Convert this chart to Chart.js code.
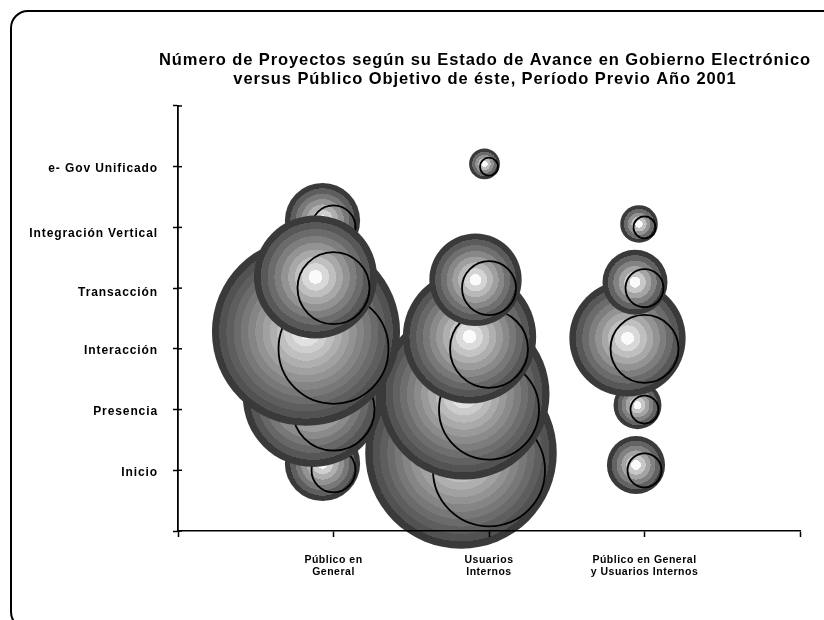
<!DOCTYPE html>
<html>
<head>
<meta charset="utf-8">
<style>
html,body{margin:0;padding:0;background:#fff;width:824px;height:620px;overflow:hidden}
#wrap{position:relative;width:824px;height:620px;overflow:hidden}
#frame{position:absolute;left:10px;top:10px;width:900px;height:620px;border:2px solid #000;border-radius:18px;box-sizing:border-box}
canvas{position:absolute;left:0;top:0}
</style>
</head>
<body>
<div id="wrap"><div id="frame"></div><canvas id="c" width="824" height="620"></canvas></div>
<script src="https://cdn.jsdelivr.net/npm/chart.js@4/dist/chart.umd.min.js"></script>
<script>
const titleLines = ['Número de Proyectos según su Estado de Avance en Gobierno Electrónico','versus Público Objetivo de éste, Período Previo Año 2001'];
const categories = [['Público en','General'],['Usuarios','Internos'],['Público en General','y Usuarios Internos']];
const stages = ['Inicio','Presencia','Interacción','Transacción','Integración Vertical','e- Gov Unificado'];
const rInicio = [22,56,17];
const rPresencia = [41,50,14];
const rInteraccion = [55,39,34];
const rTransaccion = [36,27,19];
const rIntegracion = [22,0,11];
const rEgov = [0,9,0];

const HALO_SCALE = 1.71, HALO_DX = -0.5, HALO_DY = -0.31;
const Y_LABEL_SHIFT = [2, 2, 1.5, 4.5, 6, 2.5];

function haloGradient(ctx, h) {
  const g = ctx.createRadialGradient(h.x, h.y, 0, h.x, h.y, h.r);
  const n = Math.round(3 + h.r / 9.5);
  for (let i = 0; i < n; i++) {
    const v = i === n - 1 ? 58 : Math.round(250 - Math.pow(i / (n - 1), 0.8) * 180);
    const c = 'rgb(' + v + ',' + v + ',' + (v + (i === n - 1 ? 1 : 0)) + ')';
    g.addColorStop(i / n, c);
    g.addColorStop((i + 1) / n, c);
  }
  return g;
}

function spaced(obj, method, px) {
  const orig = obj[method];
  obj[method] = function () {
    const ctx = this.ctx;
    const prev = ctx.letterSpacing;
    ctx.letterSpacing = px;
    orig.apply(this, arguments);
    ctx.letterSpacing = prev;
  };
}

const layoutPlugin = {
  id: 'layoutTweaks',
  afterLayout(chart) {
    const t = chart.titleBlock;
    t.left = 85; t.right = 885;
    if (!chart.$spaced) {
      chart.$spaced = true;
      spaced(t, 'draw', '0.9px');
      spaced(chart.scales.x, 'drawLabels', '0.5px');
      spaced(chart.scales.y, 'drawLabels', '0.9px');
      const y = chart.scales.y;
      const items = y.getLabelItems;
      y.getLabelItems = function (area) {
        return items.call(this, area).map(it => {
          const shift = Y_LABEL_SHIFT[stages.indexOf(it.label)] || 0;
          const tr = it.options.translation;
          return Object.assign({}, it, { options: Object.assign({}, it.options, { translation: [tr[0], tr[1] + shift] }) });
        });
      };
    }
  }
};

const crossTickPlugin = {
  id: 'crossTicks',
  afterDraw(chart) {
    const s = chart.scales.y, ctx = chart.ctx;
    ctx.save();
    ctx.strokeStyle = '#000';
    ctx.lineWidth = 1.5;
    s.ticks.forEach((t, i) => {
      const y = s.getPixelForTick(i);
      ctx.beginPath();
      ctx.moveTo(s.right, y);
      ctx.lineTo(s.right + 4, y);
      ctx.stroke();
    });
    ctx.restore();
  }
};

const haloPlugin = {
  id: 'halo',
  beforeDatasetDraw(chart, args) {
    const ctx = chart.ctx;
    ctx.save();
    args.meta.data.forEach(el => {
      const ir = el.options.radius;
      const h = { x: el.x + HALO_DX * ir, y: el.y + HALO_DY * ir, r: HALO_SCALE * ir };
      ctx.fillStyle = haloGradient(ctx, h);
      ctx.beginPath();
      ctx.arc(h.x, h.y, h.r, 0, Math.PI * 2);
      ctx.fill();
    });
    ctx.restore();
  }
};

function points(stageIndex, radii) {
  const out = [];
  radii.forEach((r, i) => { if (r > 0) out.push({ x: i + 1, y: stageIndex + 1, r: r }); });
  return out;
}
function series(stageIndex, radii, order) {
  return {
    label: stages[stageIndex],
    data: points(stageIndex, radii),
    order: order,
    clip: false,
    backgroundColor: 'rgba(0,0,0,0)',
    borderColor: '#000',
    borderWidth: 1.8,
    hoverRadius: 0
  };
}

new Chart(document.getElementById('c'), {
  type: 'bubble',
  data: {
    datasets: [
      series(5, rEgov, 0),
      series(3, rTransaccion, 1),
      series(4, rIntegracion, 2),
      series(2, rInteraccion, 3),
      series(1, rPresencia, 4),
      series(0, rInicio, 5)
    ]
  },
  plugins: [haloPlugin, layoutPlugin, crossTickPlugin],
  options: {
    responsive: false,
    animation: false,
    events: [],
    layout: { autoPadding: false, padding: { left: 0, right: 24, top: 0, bottom: 0 } },
    plugins: {
      legend: { display: false },
      tooltip: { enabled: false },
      title: {
        display: true,
        text: titleLines,
        color: '#000',
        font: { family: '"Liberation Sans"', size: 16.5, weight: 'bold', lineHeight: 1.15 },
        padding: { top: 50.5, bottom: 17.5 }
      }
    },
    scales: {
      x: {
        type: 'linear', min: 0, max: 4,
        afterFit(s) { s.height = 89; },
        afterBuildTicks(s) { s.ticks = [0,1,2,3,4].map(v => ({ value: v })); },
        grid: { drawOnChartArea: false, color: '#000', tickLength: 6, tickWidth: 1.5, z: 1 },
        border: { color: '#000', width: 1.5, z: 1 },
        ticks: {
          color: '#000', autoSkip: false, maxRotation: 0,
          font: { family: '"Liberation Sans"', size: 10.5, weight: 'bold', lineHeight: 1.143 },
          padding: 17,
          callback(v) { return categories[v - 1] || ''; }
        }
      },
      y: {
        type: 'linear', min: 0, max: 7,
        afterFit(s) { s.width = 178; },
        afterBuildTicks(s) { s.ticks = [0,1,2,3,4,5,6,7].map(v => ({ value: v })); },
        grid: { drawOnChartArea: false, color: '#000', tickLength: 5, tickWidth: 1.5 },
        border: { color: '#000', width: 1.8 },
        ticks: {
          color: '#000', autoSkip: false,
          font: { family: '"Liberation Sans"', size: 12, weight: 'bold' },
          padding: 15,
          callback(v) { return stages[v - 1] || ''; }
        }
      }
    }
  }
});
</script>
</body>
</html>
